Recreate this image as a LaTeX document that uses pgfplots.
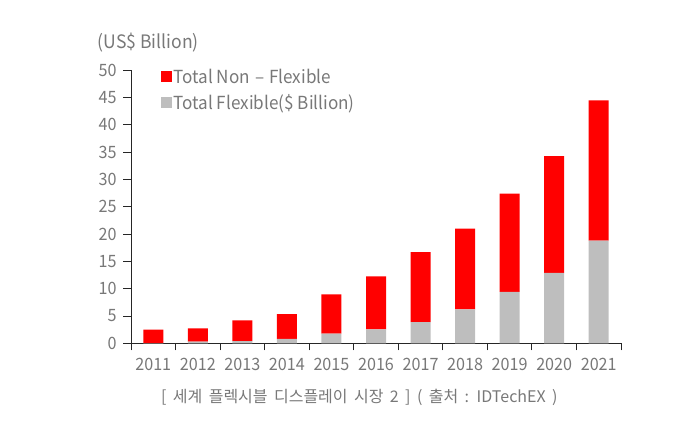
\documentclass[border=0pt]{standalone}
\usepackage{pgfplots}
\pgfplotsset{compat=1.18}
\usepackage{fontspec}
\setmainfont{Noto Sans CJK KR}
\newfontfamily\lab{Noto Sans CJK KR}[FakeStretch=0.95]
\definecolor{txt}{RGB}{120,120,120}
\definecolor{flexgray}{RGB}{190,190,190}
\begin{document}
\begin{tikzpicture}
\useasboundingbox (0,0) rectangle (700pt,-437pt);
\begin{axis}[
  at={(131pt,-343.3pt)}, anchor=south west,
  scale only axis, width=490pt, height=273pt,
  xmin=-0.5, xmax=10.5, ymin=0, ymax=50,
  axis x line*=bottom, axis y line*=left,
  axis line style={black!85, line width=0.9pt},
  ybar stacked, bar width=20pt,
  xtick={0,...,10},
  xticklabels={2011,2012,2013,2014,2015,2016,2017,2018,2019,2020,2021},
  minor xtick={-0.5,0.5,...,10.5},
  major x tick style={draw=none},
  minor x tick style={black!85, line width=0.9pt},
  minor tick length=7pt,
  ytick={0,5,...,50},
  y tick style={black!85, line width=0.9pt},
  major tick length=8pt,
  tick align=outside,
  ticklabel style={font=\lab\fontsize{17}{19}\selectfont, text=txt},
  /pgf/number format/assume math mode=true,
  xticklabel style={yshift=-3pt},
  yticklabel style={xshift=-3pt},
  ylabel={(US\$ Billion)},
  ylabel style={rotate=-90, at={(axis description cs:-0.075,1.103)}, anchor=west, font=\lab\fontsize{18.5}{20}\selectfont, text=txt},
  xlabel={\spaceskip=0.4em [ 세계 플렉시블 디스플레이 시장 2 ] ( 출처 : IDTechEX )},
  xlabel style={at={(axis description cs:0.466,-0.198)}, anchor=center, font=\fontsize{16}{18}\selectfont, text=txt},
  legend style={at={(axis description cs:0.06,1.014)}, anchor=north west, draw=none, fill=none,
    font=\lab\fontsize{18}{19}\selectfont, text=txt, row sep=6pt, inner sep=0pt},
  legend cell align=left,
  reverse legend,
  legend image code/.code={\fill[#1] (0pt,-5.5pt) rectangle (11pt,5.5pt);},
]
\addplot[fill=flexgray, draw=none] coordinates {
(0,0.05) (1,0.3) (2,0.4) (3,0.8) (4,1.76) (5,2.56) (6,3.9) (7,6.2) (8,9.4) (9,12.9) (10,18.8)};
\addlegendentry{Total Flexible(\$ Billion)}
\addplot[fill=red, draw=none] coordinates {
(0,2.45) (1,2.45) (2,3.8) (3,4.55) (4,7.2) (5,9.7) (6,12.8) (7,14.8) (8,18.0) (9,21.4) (10,25.7)};
\addlegendentry{Total Non\hspace{5pt}–\hspace{5pt}Flexible}
\end{axis}
\end{tikzpicture}
\end{document}
